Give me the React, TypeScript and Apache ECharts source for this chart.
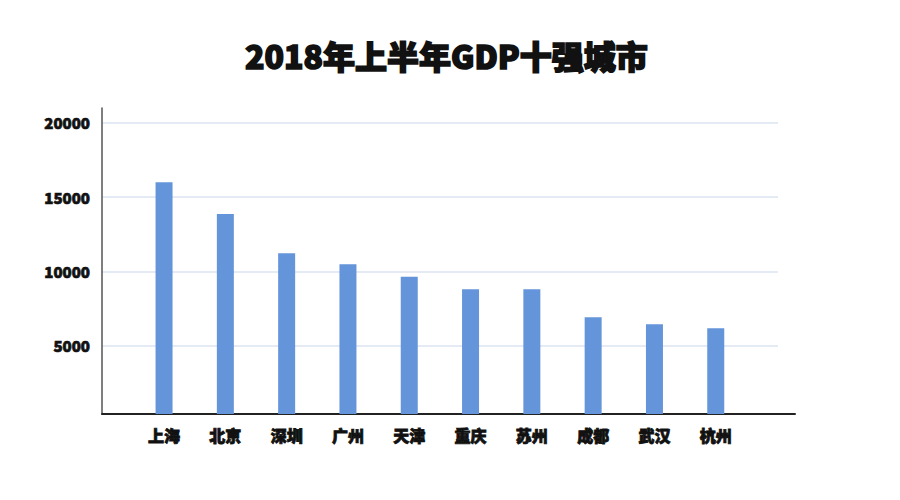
import React, { useEffect, useRef } from "react";
import * as echarts from "echarts";

const cities = ["上海", "北京", "深圳", "广州", "天津", "重庆", "苏州", "成都", "武汉", "杭州"];
const gdpValues = [16000, 13860, 11220, 10480, 9640, 8800, 8800, 6910, 6440, 6170];
const yTicks = [5000, 10000, 15000, 20000];

const titleText = "2018年上半年GDP十强城市";
const heavyFont = "'Noto Sans CJK SC', 'Noto Sans', sans-serif";

export default function App() {
    const chartRef = useRef<HTMLDivElement>(null);

    useEffect(() => {
        if (chartRef.current === null) return;
        const chart = echarts.init(chartRef.current, undefined, { renderer: "svg" });

        const option: echarts.EChartsOption = {
            animation: false,
            backgroundColor: "#ffffff",
            title: {
                text: titleText,
                left: 240,
                top: 34,
                textStyle: {
                    fontFamily: heavyFont,
                    fontWeight: 900,
                    fontSize: 32,
                    color: "#111111",
                    textBorderColor: "#111111",
                    textBorderWidth: 1.6,
                },
            },
            grid: [
                // axis lines
                { left: 102, right: 105, top: 108, bottom: 86 },
                // split lines + y labels
                { left: 102, right: 122, top: 122.7, bottom: 86 },
                // bars
                { left: 133.4, right: 153.6, top: 122.7, bottom: 86 },
            ],
            xAxis: [
                {
                    gridIndex: 0,
                    type: "category",
                    data: [],
                    axisLine: { show: true, lineStyle: { color: "#222222", width: 2 } },
                    axisTick: { show: false },
                    axisLabel: { show: false },
                },
                {
                    gridIndex: 1,
                    type: "category",
                    data: [],
                    show: false,
                },
                {
                    gridIndex: 2,
                    type: "category",
                    data: cities,
                    axisLine: { show: false },
                    axisTick: { show: false },
                    axisLabel: {
                        color: "#111111",
                        fontFamily: heavyFont,
                        fontWeight: 900,
                        fontSize: 16,
                        margin: 13,
                        textBorderColor: "#111111",
                        textBorderWidth: 0.8,
                    },
                },
            ],
            yAxis: [
                {
                    gridIndex: 0,
                    type: "value",
                    min: 400,
                    max: 21000,
                    axisLine: { show: true, lineStyle: { color: "#555555", width: 1.5 } },
                    axisTick: { show: false },
                    axisLabel: { show: false },
                    splitLine: { show: false },
                },
                {
                    gridIndex: 1,
                    type: "value",
                    min: 400,
                    max: 20000,
                    splitNumber: 4,
                    axisLine: { show: false },
                    axisTick: { show: false },
                    axisLabel: {
                        color: "#111111",
                        fontFamily: heavyFont,
                        fontWeight: 900,
                        fontSize: 15,
                        margin: 12,
                        textBorderColor: "#111111",
                        textBorderWidth: 0.7,
                        formatter: (v: number) => (yTicks.includes(v) ? String(v) : ""),
                    },
                    splitLine: {
                        show: true,
                        lineStyle: { color: "#dce5f1", width: 1.5 },
                    },
                },
                {
                    gridIndex: 2,
                    type: "value",
                    min: 400,
                    max: 20000,
                    show: false,
                },
            ],
            series: [
                {
                    type: "bar",
                    xAxisIndex: 2,
                    yAxisIndex: 2,
                    data: gdpValues,
                    barWidth: 17,
                    itemStyle: { color: "#6495da" },
                },
            ],
        };

        chart.setOption(option);

        return () => {
            chart.dispose();
        };
    }, []);

    return (
        <div
            ref={chartRef}
            style={{ position: "absolute", left: 0, top: 0, width: "900px", height: "500px" }}
        />
    );
}
